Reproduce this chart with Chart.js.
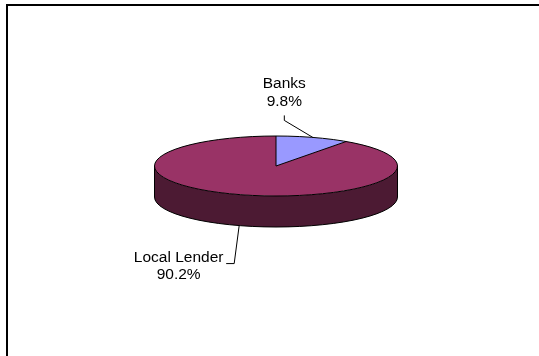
<!DOCTYPE html>
<html>
<head>
<meta charset="utf-8">
<script src="https://cdn.jsdelivr.net/npm/chart.js@4/dist/chart.umd.min.js"></script>
<style>
  html, body { margin: 0; padding: 0; background: #fff; }
  #wrap { width: 539px; height: 356px; position: relative; }
</style>
</head>
<body>
<div id="wrap"><canvas id="pie"></canvas></div>
<script>
// Lender shares (percent of borrowers)
const categories = ['Banks', 'Local Lender'];
const shares = [9.8, 90.2];
const sliceColors = ['#9999FF', '#993366'];
const sideColors = ['#4D4D80', '#4C1A33'];

// 3D look: flattened top face plus a vertical rim
const TILT = 30 / 121.5;   // vertical squash of the pie
const DEPTH = 31;          // rim height in px
const FONT = '15.5px "Liberation Sans", Arial, sans-serif';

// label placement relative to the slice's mid-point on the rim
const labelLayout = [
  { text: [-28.5, -54, -35.5], leader: [[-28.5, -17], [-28.5, -22]] },
  { text: [-60.5, 32, 49.3], leader: [[-5, 38], [-13, 38]] }
];

function arcProps(el) {
  return el.getProps(['x', 'y', 'startAngle', 'endAngle', 'outerRadius'], true);
}

const pie3d = {
  id: 'pie3d',
  beforeDraw(chart) {
    const ctx = chart.ctx;
    ctx.save();
    ctx.fillStyle = '#fff';
    ctx.fillRect(0, 0, chart.width, chart.height);
    // frame
    ctx.strokeStyle = '#000';
    ctx.lineWidth = 2;
    ctx.beginPath();
    ctx.moveTo(7, chart.height);
    ctx.lineTo(7, 5);
    ctx.lineTo(chart.width, 5);
    ctx.stroke();
    ctx.restore();
  },
  beforeDatasetsDraw(chart) {
    const ctx = chart.ctx;
    const meta = chart.getDatasetMeta(0);
    ctx.save();
    // rim: only the front half (canvas angles 0..PI) is visible
    meta.data.forEach((el, i) => {
      const p = arcProps(el);
      const ry = p.outerRadius * TILT;
      [-2 * Math.PI, 0, 2 * Math.PI].forEach(shift => {
        const a0 = Math.max(p.startAngle, shift);
        const a1 = Math.min(p.endAngle, shift + Math.PI);
        if (a1 <= a0) return;
        ctx.beginPath();
        ctx.ellipse(p.x, p.y, p.outerRadius, ry, 0, a0, a1, false);
        ctx.ellipse(p.x, p.y + DEPTH, p.outerRadius, ry, 0, a1, a0, true);
        ctx.closePath();
        ctx.fillStyle = sideColors[i];
        ctx.fill();
        ctx.strokeStyle = '#000';
        ctx.lineWidth = 1;
        ctx.beginPath();
        ctx.ellipse(p.x, p.y + DEPTH, p.outerRadius, ry, 0, a0, a1, false);
        ctx.stroke();
        [a0, a1].forEach(a => {
          const x = p.x + p.outerRadius * Math.cos(a);
          const y = p.y + ry * Math.sin(a);
          ctx.beginPath();
          ctx.moveTo(x, y);
          ctx.lineTo(x, y + DEPTH);
          ctx.stroke();
        });
      });
    });
    ctx.restore();
    // squash the top face
    const p0 = arcProps(meta.data[0]);
    ctx.save();
    ctx.translate(p0.x, p0.y);
    ctx.scale(1, TILT);
    ctx.translate(-p0.x, -p0.y);
  },
  afterDatasetsDraw(chart) {
    const ctx = chart.ctx;
    ctx.restore();
    const meta = chart.getDatasetMeta(0);
    ctx.save();
    ctx.strokeStyle = '#000';
    ctx.lineWidth = 1;
    const p0 = arcProps(meta.data[0]);
    const ry0 = p0.outerRadius * TILT;
    ctx.beginPath();
    ctx.ellipse(p0.x, p0.y, p0.outerRadius, ry0, 0, 0, 2 * Math.PI);
    ctx.stroke();
    meta.data.forEach(el => {
      const p = arcProps(el);
      const ry = p.outerRadius * TILT;
      ctx.beginPath();
      ctx.moveTo(p.x, p.y);
      ctx.lineTo(p.x + p.outerRadius * Math.cos(p.startAngle), p.y + ry * Math.sin(p.startAngle));
      ctx.stroke();
    });
    // labels with leader lines
    ctx.font = FONT;
    ctx.fillStyle = '#000';
    ctx.textAlign = 'center';
    ctx.textBaseline = 'middle';
    meta.data.forEach((el, i) => {
      const p = arcProps(el);
      const ry = p.outerRadius * TILT;
      const mid = (p.startAngle + p.endAngle) / 2;
      const ax = p.x + p.outerRadius * Math.cos(mid);
      let ay = p.y + ry * Math.sin(mid);
      if (Math.sin(mid) > 0) ay += DEPTH;
      const L = labelLayout[i];
      ctx.beginPath();
      ctx.moveTo(ax, ay);
      L.leader.forEach(([dx, dy]) => ctx.lineTo(ax + dx, ay + dy));
      ctx.stroke();
      const tx = ax + L.text[0];
      ctx.fillText(categories[i], tx, ay + L.text[1]);
      ctx.fillText(shares[i].toFixed(1) + '%', tx, ay + L.text[2]);
    });
    ctx.restore();
  }
};

new Chart(document.getElementById('pie'), {
  type: 'pie',
  data: {
    labels: categories,
    datasets: [{
      data: shares,
      backgroundColor: sliceColors,
      borderWidth: 0
    }]
  },
  options: {
    responsive: true,
    maintainAspectRatio: false,
    animation: false,
    layout: { padding: { left: 154.5, right: 141.5, top: 44.5, bottom: 68.5 } },
    plugins: {
      legend: { display: false },
      tooltip: { enabled: false }
    }
  },
  plugins: [pie3d]
});
</script>
</body>
</html>
